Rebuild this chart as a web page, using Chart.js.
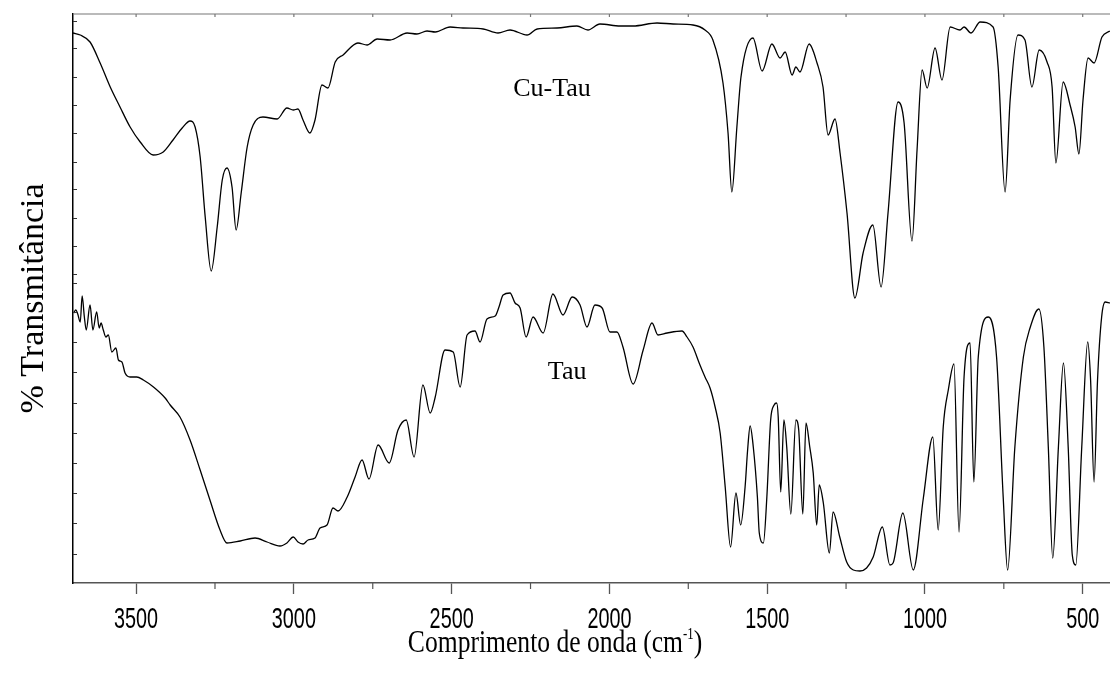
<!DOCTYPE html>
<html lang="pt">
<head>
<meta charset="utf-8">
<title>FTIR Tau / Cu-Tau</title>
<script src="https://cdn.jsdelivr.net/npm/chart.js@4.4.1/dist/chart.umd.min.js"></script>
<style>
  html, body { margin: 0; padding: 0; background: #fff; }
  #wrap { width: 1110px; height: 678px; position: relative; }
</style>
</head>
<body>
<div id="wrap"><canvas id="chart"></canvas></div>
<script>
// wavenumber (cm-1) and transmittance (arbitrary units)
const cuTauWavenumber = [3700,3677,3646,3614,3582,3551,3519,3487,3446,3414,3383,3354,3329,3313,3297,3281,3262,3243,3227,3212,3196,3183,3167,3148,3129,3098,3053,3022,3002,2987,2971,2949,2933,2911,2892,2869,2844,2797,2768,2736,2695,2641,2610,2578,2552,2505,2464,2400,2353,2315,2261,2229,2166,2103,2068,2030,1966,1925,1849,1798,1735,1697,1672,1640,1624,1612,1596,1583,1545,1516,1485,1459,1443,1421,1409,1396,1367,1342,1323,1307,1285,1269,1247,1222,1196,1165,1139,1117,1085,1066,1041,1025,1009,993,968,946,920,889,876,854,825,784,768,746,730,705,683,661,638,613,597,585,562,540,524,512,499,483,464,439,414];
const cuTauSignal = [550,548,541,520,496,476,456,441,428,431,443,455,462,456,426,366,312,356,403,415,396,353,390,436,458,466,464,475,473,474,463,450,463,498,495,521,528,540,538,544,543,550,549,552,551,556,555,554,550,553,548,554,555,557,553,559,557,557,560,559,558,553,543,500,450,391,456,506,545,512,539,525,531,508,516,511,539,520,496,448,464,430,370,285,330,358,296,370,481,460,342,433,513,495,535,503,556,553,556,550,561,556,516,391,483,548,543,496,533,521,496,420,501,478,456,429,483,525,520,546,552];

const tauWavenumber = [3698,3691,3685,3677,3671,3664,3658,3646,3637,3625,3617,3611,3604,3596,3588,3577,3564,3556,3545,3535,3519,3498,3477,3445,3408,3392,3361,3329,3297,3266,3234,3212,3170,3123,3085,3044,3022,3002,2987,2971,2955,2933,2917,2895,2876,2860,2831,2806,2784,2762,2733,2698,2670,2644,2619,2591,2568,2552,2521,2495,2473,2451,2426,2410,2388,2362,2350,2337,2315,2299,2283,2264,2242,2210,2179,2147,2118,2093,2071,2046,2023,1998,1976,1957,1925,1893,1865,1846,1817,1770,1754,1735,1713,1697,1681,1665,1649,1633,1616,1599,1584,1570,1562,1554,1544,1531,1525,1512,1501,1489,1478,1470,1465,1457,1447,1438,1425,1409,1400,1387,1377,1365,1354,1343,1335,1322,1303,1291,1270,1248,1227,1206,1185,1164,1135,1111,1101,1070,1037,1005,975,958,942,926,908,892,876,857,845,831,799,773,752,738,715,688,667,639,623,609,595,577,561,546,533,522,503,484,475,464,453,440,429,414];
const tauSignal = [270,273,269,261,287,266,253,278,253,271,255,260,253,246,248,231,235,223,221,210,206,206,203,196,185,178,166,143,113,83,53,40,42,45,41,37,40,46,41,39,43,45,55,58,75,72,86,106,123,104,138,120,153,163,126,198,170,186,233,231,196,248,252,241,264,267,276,288,290,280,275,246,266,250,289,268,286,278,256,278,275,251,251,236,199,233,260,248,250,252,246,236,218,206,195,176,150,96,36,90,58,96,133,157,136,86,50,40,86,163,178,180,166,91,163,136,69,163,153,69,160,136,110,58,98,80,30,71,46,21,13,12,15,26,56,18,20,70,13,85,146,53,156,193,219,51,206,240,101,226,266,226,86,13,136,226,255,274,236,136,25,136,220,136,28,18,136,241,203,101,203,266,281,280];

// axes
const xMajorTicks = [3500, 3000, 2500, 2000, 1500, 1000, 500];
const xMinorTicks = [3250, 2750, 2250, 1750, 1250, 750];
const yTicks = [562, 535, 506, 478, 450, 421, 394, 365, 337, 309, 300, 271, 241, 211, 180, 150, 120, 90, 60, 29];
const xRange = [413.5, 3700];
const yRange = [0, 569];

// curve names: [text, wavenumber, transmittance]
const curveNames = [["Cu-Tau", 2182, 494], ["Tau", 2134, 211]];
const xTitle = "Comprimento de onda (cm";
const yTitle = "% Transmitância";

function toPoints(xs, ys){ return xs.map((x, i) => ({ x, y: ys[i] })); }

// the original uses narrow fonts along the x axis; draw them squeezed
function squeezed(ctx, px, py, sx, fn){
  ctx.save(); ctx.translate(px, py); ctx.scale(sx, 1); fn(); ctx.restore();
}

const frame = {
  id: "frame",
  afterDraw(chart){
    const { ctx, chartArea: a, scales: { x, y } } = chart;
    const seg = (x1, y1, x2, y2) => { ctx.beginPath(); ctx.moveTo(x1, y1); ctx.lineTo(x2, y2); ctx.stroke(); };
    ctx.save();
    // top border with little inward ticks
    ctx.strokeStyle = "#777"; ctx.lineWidth = 1.2;
    seg(a.left, a.top, a.right, a.top);
    [...xMajorTicks, ...xMinorTicks].forEach(v => { const px = x.getPixelForValue(v); seg(px, a.top, px, a.top + 3); });
    // minor ticks on the bottom axis
    ctx.strokeStyle = "#555";
    xMinorTicks.forEach(v => { const px = x.getPixelForValue(v); seg(px, a.bottom, px, a.bottom + 6); });
    // inward ticks on the left axis
    ctx.strokeStyle = "#333"; ctx.lineWidth = 1;
    yTicks.forEach(v => { const py = Math.round(y.getPixelForValue(v)) + 0.5; seg(a.left, py, a.left + 4, py); });

    // curve names
    ctx.fillStyle = "#000";
    ctx.font = '26px "Liberation Serif", "Times New Roman", serif';
    ctx.textAlign = "center"; ctx.textBaseline = "middle";
    curveNames.forEach(([t, wx, wy]) => ctx.fillText(t, x.getPixelForValue(wx), y.getPixelForValue(wy)));

    // x tick labels
    ctx.font = '30px "Liberation Sans", Arial, sans-serif';
    ctx.textAlign = "center"; ctx.textBaseline = "alphabetic";
    xMajorTicks.forEach(v => squeezed(ctx, x.getPixelForValue(v), a.bottom + 45, 0.66, () => ctx.fillText(String(v), 0, 0)));

    // x title
    const big = '32px "Liberation Serif", "Times New Roman", serif';
    const small = '16px "Liberation Serif", "Times New Roman", serif';
    ctx.font = big;  const w1 = ctx.measureText(xTitle).width, w3 = ctx.measureText(")").width;
    ctx.font = small; const w2 = ctx.measureText("-1").width;
    squeezed(ctx, chart.width / 2, 652, 0.8, () => {
      ctx.textAlign = "left";
      let cx = -(w1 + w2 + w3) / 2;
      ctx.font = big; ctx.fillText(xTitle, cx, 0); cx += w1;
      ctx.font = small; ctx.fillText("-1", cx, -13); cx += w2;
      ctx.font = big; ctx.fillText(")", cx, 0);
    });
    ctx.restore();
  }
};

Chart.defaults.font.family = '"Liberation Sans", Arial, sans-serif';
Chart.defaults.color = "#000";

new Chart(document.getElementById("chart"), {
  type: "line",
  data: {
    datasets: [
      { label: "Cu-Tau", data: toPoints(cuTauWavenumber, cuTauSignal) },
      { label: "Tau", data: toPoints(tauWavenumber, tauSignal) }
    ]
  },
  options: {
    responsive: true,
    maintainAspectRatio: false,
    animation: false,
    parsing: false,
    layout: { padding: { top: 14, right: 0, left: 0, bottom: 0 } },
    elements: {
      line: { borderColor: "#000", borderWidth: 1.3, cubicInterpolationMode: "monotone", fill: false },
      point: { radius: 0 }
    },
    plugins: { legend: { display: false }, tooltip: { enabled: false } },
    scales: {
      x: {
        type: "linear",
        reverse: true,
        min: xRange[0], max: xRange[1],
        afterBuildTicks: s => { s.ticks = xMajorTicks.map(v => ({ value: v })); },
        afterFit: s => { s.height = 95; },
        ticks: { display: false },
        grid: { drawOnChartArea: false, drawTicks: true, tickLength: 11, tickColor: "#555", tickWidth: 1.3 },
        border: { display: true, color: "#555", width: 1.5 }
      },
      y: {
        type: "linear",
        min: yRange[0], max: yRange[1],
        afterFit: s => { s.width = 73; },
        ticks: { display: false },
        grid: { drawOnChartArea: false, drawTicks: false },
        border: { display: true, color: "#000", width: 1.5 },
        title: {
          display: true, text: yTitle, color: "#000",
          font: { family: '"Liberation Serif", "Times New Roman", serif', size: 34 },
          padding: { top: 14, bottom: 0 }
        }
      }
    }
  },
  plugins: [frame]
});
</script>
</body>
</html>
